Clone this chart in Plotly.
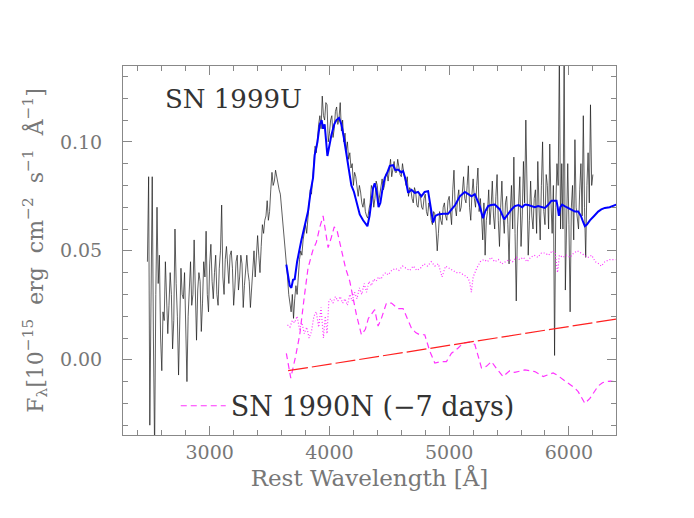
"""SN 1999U spectrum compared with SN 1990N, PGPLOT-like styling."""
import numpy as np
import plotly.graph_objects as go

INK = "#1a1a1a"
GREY = "#777777"
FRAME = "#888888"
BLUE = "#0000FF"
MAGENTA = "#FF33FF"
RED = "#FF2020"
FONT = "DejaVu Serif"
NB = "\u00a0"

# observed spectrum, 10 A grid starting at 2480 A (one row = 200 A)
OBS_WAVE = np.arange(2480, 6201, 10)
OBS_FLUX = [
    0.045, 0.084, -0.030, 0.040, 0.084, 0.010, -0.042, 0.030, 0.070, 0.035, 0.048, 0.010, -0.005, 0.022, 0.018, 0.045, 0.030, 0.012, 0.025, 0.040,
    0.030, 0.005, 0.018, 0.060, 0.035, 0.020, -0.007, 0.015, 0.042, 0.030, 0.028, 0.040, 0.012, -0.010, 0.020, 0.036, 0.045, 0.025, 0.030, 0.055,
    0.022, 0.009, 0.032, 0.040, 0.036, 0.013, 0.026, 0.045, 0.038, 0.059, 0.030, 0.022, 0.044, 0.053, 0.036, 0.028, 0.040, 0.048, 0.030, 0.025,
    0.042, 0.050, 0.071, 0.038, 0.030, 0.046, 0.052, 0.040, 0.035, 0.048, 0.050, 0.042, 0.025, 0.033, 0.045, 0.048, 0.032, 0.038, 0.048, 0.044,
    0.024, 0.034, 0.042, 0.048, 0.040, 0.036, 0.024, 0.032, 0.045, 0.050, 0.038, 0.046, 0.057, 0.048, 0.040, 0.052, 0.062, 0.058, 0.064, 0.066,
    0.073, 0.064, 0.068, 0.078, 0.086, 0.080, 0.082, 0.087, 0.084, 0.080, 0.078, 0.076, 0.070, 0.064, 0.056, 0.050, 0.045, 0.038, 0.030, 0.026,
    0.022, 0.030, 0.019, 0.028, 0.034, 0.030, 0.040, 0.046, 0.050, 0.048, 0.055, 0.060, 0.062, 0.058, 0.066, 0.072, 0.078, 0.076, 0.085, 0.090,
    0.098, 0.095, 0.104, 0.108, 0.112, 0.106, 0.121, 0.112, 0.110, 0.118, 0.117, 0.100, 0.104, 0.110, 0.112, 0.102, 0.106, 0.114, 0.116, 0.108,
    0.111, 0.118, 0.105, 0.110, 0.100, 0.104, 0.096, 0.100, 0.092, 0.095, 0.088, 0.090, 0.080, 0.086, 0.084, 0.079, 0.075, 0.080, 0.077, 0.072,
    0.070, 0.074, 0.068, 0.066, 0.065, 0.069, 0.072, 0.080, 0.078, 0.070, 0.074, 0.082, 0.080, 0.072, 0.076, 0.079, 0.083, 0.078, 0.080, 0.085,
    0.086, 0.082, 0.088, 0.092, 0.084, 0.088, 0.091, 0.086, 0.086, 0.092, 0.089, 0.085, 0.084, 0.090, 0.086, 0.082, 0.080, 0.084, 0.075, 0.079,
    0.078, 0.074, 0.072, 0.079, 0.077, 0.071, 0.070, 0.076, 0.075, 0.070, 0.069, 0.074, 0.076, 0.068, 0.066, 0.072, 0.070, 0.064, 0.062, 0.068,
    0.067, 0.060, 0.050, 0.058, 0.068, 0.064, 0.062, 0.070, 0.072, 0.066, 0.064, 0.073, 0.075, 0.068, 0.062, 0.078, 0.087, 0.070, 0.066, 0.074,
    0.078, 0.068, 0.070, 0.077, 0.084, 0.074, 0.072, 0.080, 0.089, 0.070, 0.064, 0.076, 0.083, 0.074, 0.070, 0.080, 0.088, 0.068, 0.074, 0.066,
    0.055, 0.072, 0.048, 0.064, 0.068, 0.078, 0.062, 0.070, 0.082, 0.066, 0.060, 0.075, 0.085, 0.064, 0.052, 0.070, 0.082, 0.066, 0.058, 0.072,
    0.075, 0.062, 0.044, 0.068, 0.080, 0.060, 0.093, 0.058, 0.027, 0.060, 0.075, 0.084, 0.052, 0.066, 0.091, 0.072, 0.110, 0.070, 0.048, 0.064,
    0.082, 0.066, 0.060, 0.074, 0.078, 0.058, 0.091, 0.070, 0.055, 0.080, 0.100, 0.068, 0.062, 0.085, 0.080, 0.060, 0.099, 0.072, 0.058, 0.080,
    0.002, 0.070, 0.090, 0.080, 0.140, 0.060, 0.090, 0.060, 0.140, 0.032, 0.068, 0.090, 0.062, 0.022, 0.070, 0.080, 0.055, 0.101, 0.070, 0.064,
    0.060, 0.078, 0.090, 0.066, 0.112, 0.070, 0.047, 0.080, 0.095, 0.072, 0.117, 0.080, 0.085,
]

# SN 1990N template (blue, solid)
TEMPLATE_WAVE = [
    3640, 3668, 3682, 3696, 3710, 3730, 3766, 3800, 3821, 3845, 3863, 3877,
    3900, 3919, 3935, 3947, 3960, 3983, 4000, 4016, 4040, 4058, 4080, 4100,
    4120, 4141, 4160, 4183, 4205, 4225, 4253, 4281, 4300, 4317, 4335, 4350,
    4365, 4378, 4395, 4410, 4425, 4445, 4462, 4484, 4504, 4532, 4550, 4573,
    4600, 4615, 4635, 4657, 4685, 4713, 4740, 4768, 4795, 4824, 4845, 4866,
    4885, 4908, 4950, 4991, 5020, 5050, 5089, 5110, 5130, 5160, 5186, 5214,
    5235, 5255, 5283, 5300, 5325, 5350, 5381, 5400, 5423, 5459, 5492, 5520,
    5548, 5580, 5610, 5632, 5660, 5687, 5715, 5743, 5770, 5799, 5825, 5854,
    5880, 5896, 5906, 5916, 5928, 5943, 5980, 6021, 6050, 6077, 6100, 6120,
    6133, 6150, 6175, 6210, 6244, 6270, 6300, 6340, 6384, 6395,
]
TEMPLATE_FLUX = [
    0.0437, 0.0340, 0.0330, 0.0367, 0.0370, 0.0450, 0.0550, 0.0630, 0.0680, 0.0780, 0.0835, 0.0940,
    0.1000, 0.1080, 0.1100, 0.1060, 0.1080, 0.0935, 0.0990, 0.1030, 0.1080, 0.1100, 0.1110, 0.1080,
    0.1020, 0.0940, 0.0870, 0.0800, 0.0770, 0.0730, 0.0667, 0.0640, 0.0625, 0.0613, 0.0660, 0.0730,
    0.0790, 0.0810, 0.0770, 0.0700, 0.0720, 0.0790, 0.0835, 0.0860, 0.0890, 0.0893, 0.0870, 0.0873,
    0.0860, 0.0866, 0.0830, 0.0766, 0.0780, 0.0766, 0.0770, 0.0750, 0.0770, 0.0774, 0.0700, 0.0630,
    0.0660, 0.0667, 0.0670, 0.0670, 0.0690, 0.0710, 0.0750, 0.0760, 0.0770, 0.0760, 0.0750, 0.0760,
    0.0730, 0.0705, 0.0650, 0.0680, 0.0705, 0.0710, 0.0712, 0.0700, 0.0690, 0.0644, 0.0670, 0.0690,
    0.0705, 0.0710, 0.0700, 0.0712, 0.0710, 0.0705, 0.0700, 0.0705, 0.0700, 0.0697, 0.0710, 0.0730,
    0.0730, 0.0730, 0.0700, 0.0660, 0.0700, 0.0712, 0.0700, 0.0690, 0.0680, 0.0680, 0.0660, 0.0630,
    0.0613, 0.0620, 0.0640, 0.0660, 0.0680, 0.0690, 0.0697, 0.0700, 0.0712, 0.0712,
]

# SN 1990N at -7 days (magenta, dashed) - the legend entry
EARLY_WAVE = [
    3640, 3677, 3715, 3752, 3790, 3821, 3860, 3891, 3920, 3947, 3970, 3989,
    4015, 4040, 4065, 4100, 4135, 4170, 4200, 4225, 4267, 4300, 4325, 4350,
    4378, 4406, 4434, 4476, 4518, 4573, 4615, 4650, 4684, 4720, 4754, 4796,
    4838, 4880, 4935, 4977, 5019, 5075, 5116, 5172, 5214, 5242, 5270, 5311,
    5353, 5395, 5450, 5506, 5548, 5590, 5632, 5675, 5715, 5750, 5785, 5830,
    5868, 5900, 5935, 5980, 6021, 6050, 6077, 6105, 6133, 6175, 6210, 6244,
    6280, 6314, 6350, 6384,
]
EARLY_FLUX = [
    0.0030, -0.0084, 0.0010, 0.0115, 0.0290, 0.0420, 0.0500, 0.0540, 0.0610, 0.0660, 0.0580, 0.0515,
    0.0560, 0.0610, 0.0590, 0.0510, 0.0420, 0.0360, 0.0280, 0.0207, 0.0115, 0.0140, 0.0190, 0.0207,
    0.0230, 0.0155, 0.0190, 0.0260, 0.0260, 0.0235, 0.0235, 0.0190, 0.0146, 0.0125, 0.0115, 0.0115,
    0.0039, -0.0015, -0.0008, -0.0008, 0.0030, 0.0054, 0.0077, 0.0081, 0.0070, 0.0017, -0.0038, -0.0030,
    -0.0008, -0.0040, -0.0077, -0.0050, -0.0058, -0.0052, -0.0046, -0.0050, -0.0054, -0.0065, -0.0077, -0.0068,
    -0.0060, -0.0070, -0.0084, -0.0100, -0.0115, -0.0130, -0.0146, -0.0175, -0.0200, -0.0177, -0.0150, -0.0120,
    -0.0105, -0.0099, -0.0098, -0.0100,
]

# second comparison spectrum (magenta, dotted)
LATE_WAVE = [
    3650, 3670, 3690, 3710, 3730, 3750, 3770, 3790, 3810, 3830, 3850, 3870,
    3890, 3910, 3930, 3950, 3965, 3980, 3995, 4010, 4030, 4050, 4070, 4090,
    4110, 4130, 4150, 4170, 4190, 4210, 4230, 4250, 4270, 4290, 4310, 4330,
    4350, 4370, 4390, 4410, 4430, 4450, 4470, 4490, 4520, 4550, 4580, 4610,
    4640, 4670, 4700, 4730, 4760, 4790, 4820, 4850, 4880, 4910, 4940, 4970,
    5000, 5030, 5060, 5090, 5120, 5150, 5170, 5185, 5200, 5230, 5260, 5290,
    5320, 5350, 5380, 5410, 5440, 5470, 5500, 5530, 5560, 5590, 5620, 5650,
    5680, 5710, 5740, 5770, 5800, 5830, 5860, 5885, 5905, 5920, 5950, 5980,
    6010, 6040, 6070, 6100, 6130, 6160, 6190, 6220, 6250, 6270, 6300, 6340,
    6390,
]
LATE_FLUX = [
    0.016, 0.015, 0.018, 0.017, 0.020, 0.014, 0.017, 0.012, 0.015, 0.010, 0.013, 0.020,
    0.022, 0.015, 0.024, 0.010, 0.020, 0.012, 0.027, 0.028, 0.026, 0.029, 0.027, 0.029,
    0.026, 0.028, 0.025, 0.030, 0.027, 0.031, 0.028, 0.033, 0.030, 0.035, 0.031, 0.036,
    0.034, 0.037, 0.036, 0.038, 0.037, 0.039, 0.040, 0.039, 0.041, 0.042, 0.041, 0.043,
    0.042, 0.041, 0.043, 0.041, 0.042, 0.044, 0.043, 0.045, 0.043, 0.044, 0.038, 0.043,
    0.042, 0.041, 0.040, 0.040, 0.039, 0.038, 0.036, 0.031, 0.038, 0.042, 0.045, 0.046,
    0.045, 0.047, 0.045, 0.046, 0.044, 0.045, 0.046, 0.045, 0.047, 0.046, 0.047, 0.045,
    0.047, 0.048, 0.047, 0.049, 0.049, 0.048, 0.050, 0.049, 0.040, 0.048, 0.047, 0.048,
    0.047, 0.049, 0.050, 0.049, 0.048, 0.047, 0.048, 0.045, 0.044, 0.043, 0.045, 0.046,
    0.046,
]

# straight reference line (red, long dashes)
LINE_WAVE = [3655, 6395]
LINE_FLUX = [-0.0050, 0.0187]

X_RANGE = [2276, 6393]
Y_RANGE = [-0.0345, 0.1348]

Y_TITLE = (
    f"F<sub>\u03bb</sub>[10<sup>\u221215</sup>{NB}{NB}erg{NB}{NB}cm<sup>\u22122</sup>"
    f"{NB}{NB}s<sup>\u22121</sup>{NB}{NB}\u00c5<sup>\u22121</sup>]{NB}{NB}{NB}"
)


def axis_style(**kw):
    base = dict(
        showline=True, linecolor=FRAME, linewidth=1, mirror="ticks",
        ticks="inside", ticklen=9, tickcolor=FRAME, tickwidth=1,
        showgrid=False, zeroline=False,
        tickfont=dict(family=FONT, size=19, color=GREY),
        title_font=dict(family=FONT, size=23, color=GREY),
    )
    base.update(kw)
    return base


fig = go.Figure()
fig.add_trace(go.Scatter(x=OBS_WAVE, y=OBS_FLUX, mode="lines",
                         line=dict(color=INK, width=0.7), showlegend=False))
fig.add_trace(go.Scatter(x=LATE_WAVE, y=LATE_FLUX, mode="lines",
                         line=dict(color=MAGENTA, width=1.2, dash="1px,2px"), showlegend=False))
fig.add_trace(go.Scatter(x=EARLY_WAVE, y=EARLY_FLUX, mode="lines", name="SN 1990N (\u22127 days)",
                         line=dict(color=MAGENTA, width=1.2, dash="6px,4px")))
fig.add_trace(go.Scatter(x=LINE_WAVE, y=LINE_FLUX, mode="lines",
                         line=dict(color=RED, width=1.2, dash="20px,4px"), showlegend=False))
fig.add_trace(go.Scatter(x=TEMPLATE_WAVE, y=TEMPLATE_FLUX, mode="lines",
                         line=dict(color=BLUE, width=2), showlegend=False))

fig.add_annotation(text="SN 1999U", xref="paper", yref="paper", x=0.081, y=0.911,
                   xanchor="left", yanchor="middle", showarrow=False,
                   font=dict(family=FONT, size=26, color="#333333"))

fig.update_layout(
    width=694, height=518,
    paper_bgcolor="white", plot_bgcolor="white",
    margin=dict(l=115, r=86, t=58, b=91),
    font=dict(family=FONT, color=INK),
    legend=dict(x=0.107, y=0.078, xanchor="left", yanchor="middle", itemwidth=45,
                bgcolor="rgba(0,0,0,0)", borderwidth=0,
                font=dict(family=FONT, size=27, color="#333333")),
)
fig.update_xaxes(**axis_style(
    range=X_RANGE, tick0=0, dtick=1000,
    minor=dict(ticks="inside", ticklen=5, dtick=200, tickcolor=FRAME),
    title_text="Rest Wavelength [\u00c5]", title_standoff=8,
))
fig.update_yaxes(**axis_style(
    range=Y_RANGE, tick0=0, dtick=0.05, tickformat=".2f", ticklabelstandoff=16,
    minor=dict(ticks="inside", ticklen=5, dtick=0.01, tickcolor=FRAME),
    title_text=Y_TITLE,
    title_font=dict(family=FONT, size=22, color=GREY),
    title_standoff=10,
))

fig.write_html("out.html")
